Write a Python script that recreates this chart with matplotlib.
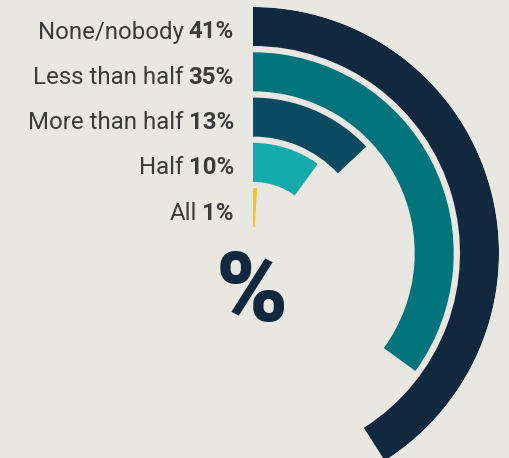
import numpy as np
import matplotlib.pyplot as plt

plt.rcParams["font.family"] = ["Roboto", "DejaVu Sans"]

# data (outer ring first)
labels = ["None/nobody", "Less than half", "More than half", "Half", "All"]
values = [41, 35, 13, 10, 1]
colors = ["#12283e", "#00747a", "#0c4a62", "#15abab", "#f5c419"]

bg = "#e8e7e2"
W, H = 510, 458
cx, cy = 253, 253          # centre of the rings, px from top-left
r_max = 246                # outer radius of the outer ring, px
ring_w = 39
pitch = 45.3

fig = plt.figure(figsize=(W / 100, H / 100), dpi=100, facecolor=bg)
ax = fig.add_axes([(cx - r_max) / W, (H - cy - r_max) / H,
                   2 * r_max / W, 2 * r_max / H], projection="polar")
ax.set_theta_zero_location("N")
ax.set_theta_direction(-1)
ax.set_ylim(0, r_max)
ax.axis("off")

for i, (v, c) in enumerate(zip(values, colors)):
    bottom = r_max - ring_w - i * pitch
    ax.bar(0, ring_w, width=v / 100 * 2 * np.pi, bottom=bottom,
           align="edge", color=c, linewidth=0)

# labels to the left of the ring start
fig.canvas.draw()
renderer = fig.canvas.get_renderer()
x_right = 234
for i, (lab, v) in enumerate(zip(labels, values)):
    mid = cy - (r_max - ring_w / 2 - i * pitch)
    ybase = (H - (mid + 12)) / H
    t = fig.text(x_right / W, ybase, f"{v}%", ha="right", va="baseline",
                 fontsize=17.3, fontweight="bold", color="#3b3b3b")
    bb = t.get_window_extent(renderer)
    fig.text((bb.x0 - 5) / W, ybase, lab, ha="right", va="baseline",
             fontsize=17.3, color="#3b3b3b")

fig.text(252 / W, (H - 295) / H, "%", ha="center", va="center",
         fontsize=70, fontweight="heavy", color="#12283e")

fig.savefig("out.png", dpi=100, facecolor=bg)
